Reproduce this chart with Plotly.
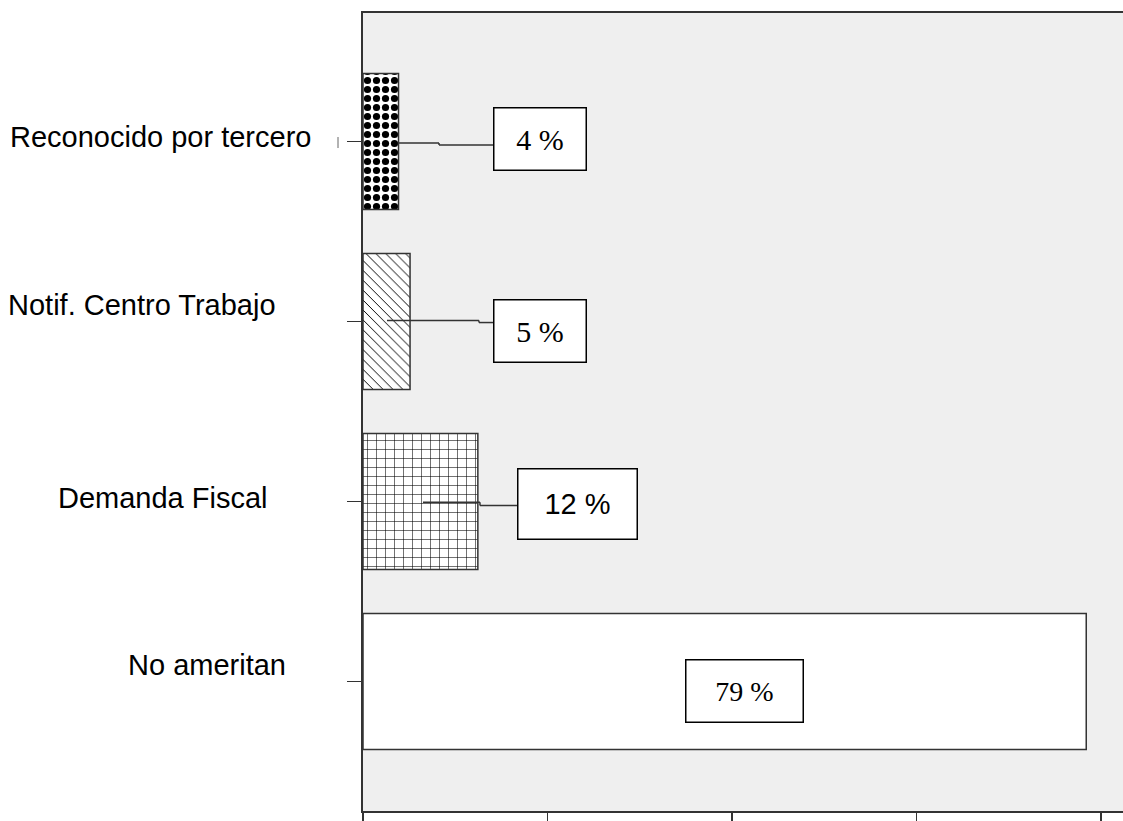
import plotly.graph_objects as go

# ---- data ----
categories = ["Reconocido por tercero", "Notif. Centro Trabajo", "Demanda Fiscal", "No ameritan"]
values = [3.85, 5.1, 12.45, 78.4]
labels = ["4 %", "5 %", "12 %", "79 %"]
x_ticks = [0, 20, 40, 60, 80]

# ---- styling / placement (not data) ----
patterns = [".", "\\", "+", ""]
pattern_sizes = [9, 7, 9, 8]
pattern_solid = [0.5, 0.14, 0.12, 0.1]
label_fonts = ["Liberation Serif", "Liberation Serif", "Liberation Sans", "Liberation Serif"]
label_sizes = [30, 30, 29, 28]
box_x = [19.19, 19.19, 23.25, 41.36]          # box centre, axis units
box_yshift = [2.5, -9, -2, -9.5]
box_w = [94, 94, 121, 119]
box_h = [64, 64, 72, 64]
cat_xshift = [-50, -85, -93, -75]
cat_yshift = [4.5, 17, 4, 16.5]
# leader lines: list of (x0, x1, y_offset_px) segments per category
leaders = [
    [(3.9, 8.24, -1.5), (8.24, 14.09, -3.5)],
    [(2.6, 12.57, 1.0), (12.57, 14.09, -1.0)],
    [(6.5, 12.68, -0.7), (12.68, 16.69, -4.0)],
    [],
]

LINE = "#333333"
PLOT_W = 760
order_bottom_up = categories[::-1]

fig = go.Figure()
fig.add_trace(go.Bar(
    x=values, y=categories, orientation="h", width=0.755,
    marker=dict(
        color="white",
        line=dict(color=LINE, width=1.5),
        pattern=dict(shape=patterns, fgcolor="black", bgcolor="white",
                     size=pattern_sizes, solidity=pattern_solid, fillmode="replace"),
    ),
    hoverinfo="skip", showlegend=False,
))

shapes = []
for ci, segs in enumerate(leaders):
    cat = categories[ci]
    idx = order_bottom_up.index(cat)
    prev = None
    for (x0, x1, yo) in segs:
        shapes.append(dict(type="line", xref="x", yref="y", ysizemode="pixel", yanchor=idx,
                           x0=x0, x1=x1, y0=yo, y1=yo, line=dict(color=LINE, width=1.5)))
        if prev is not None:
            shapes.append(dict(type="line", xref="x", yref="y", ysizemode="pixel", yanchor=idx,
                               x0=x0, x1=x0, y0=prev, y1=yo, line=dict(color=LINE, width=1.5)))
        prev = yo

# small stray tick mark left of first category
shapes.append(dict(type="line", xref="paper", yref="y", ysizemode="pixel",
                   yanchor=order_bottom_up.index(categories[0]),
                   x0=-25 / PLOT_W, x1=-25 / PLOT_W, y0=4.5, y1=-6.5,
                   line=dict(color="#666666", width=1)))

annotations = []
for i, cat in enumerate(categories):
    annotations.append(dict(
        x=box_x[i], y=cat, xref="x", yref="y", yshift=box_yshift[i],
        text=labels[i], showarrow=False, xanchor="center", yanchor="middle",
        width=box_w[i] - 3, height=box_h[i] - 3, borderpad=0,
        bgcolor="white", bordercolor="black", borderwidth=1.5,
        font=dict(family=label_fonts[i], size=label_sizes[i], color="black"),
    ))
    annotations.append(dict(
        x=0, y=cat, xref="paper", yref="y", xshift=cat_xshift[i], yshift=cat_yshift[i],
        text=cat, showarrow=False, xanchor="right", yanchor="middle",
        font=dict(family="Liberation Sans, Arial", size=29, color="black"),
    ))

fig.update_layout(
    width=1123, height=821,
    margin=dict(l=363, r=0, t=13, b=10, pad=0),
    paper_bgcolor="white", plot_bgcolor="#efefef",
    shapes=shapes, annotations=annotations,
    bargap=0.245,
    xaxis=dict(range=[0, PLOT_W / 9.225], tickvals=x_ticks, showticklabels=False,
               ticks="outside", ticklen=10, tickwidth=1.5, tickcolor=LINE,
               showline=True, linecolor=LINE, linewidth=2, mirror=True,
               showgrid=False, zeroline=False, fixedrange=True),
    yaxis=dict(type="category", categoryorder="array", categoryarray=order_bottom_up,
               range=[-0.719, 3.714], showticklabels=False,
               ticks="outside", ticklen=14, tickwidth=1.5, tickcolor=LINE,
               showline=True, linecolor=LINE, linewidth=2,
               showgrid=False, zeroline=False, fixedrange=True),
)

# remove the default page margin / scrollbars so the figure fills the window
page_js = ("document.body.style.margin='0';"
           "document.body.style.overflow='hidden';"
           "document.documentElement.style.overflow='hidden';")

fig.write_html("out.html", post_script=page_js,
               config={"displayModeBar": False, "staticPlot": True})
